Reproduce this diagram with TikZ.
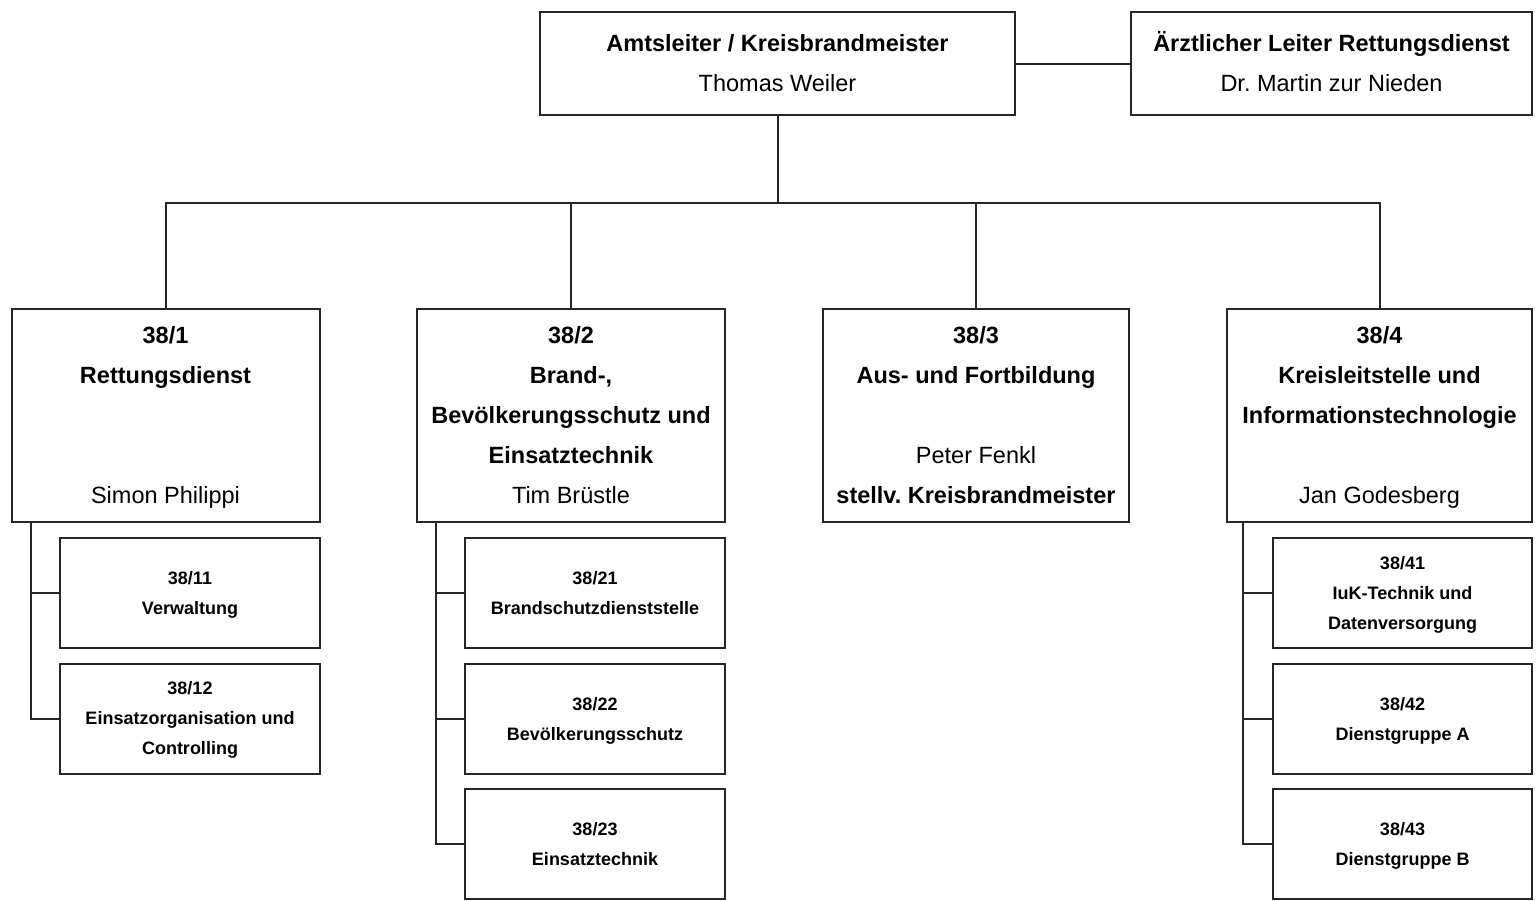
\documentclass[tikz,border=0pt]{standalone}
\usepackage{fontspec}
\setmainfont{Liberation Sans}
\frenchspacing
\usetikzlibrary{positioning}
\tikzset{
  leitbox/.style={draw=black!85, line width=2pt, fill=white, align=center,
                  inner sep=0pt, font=\fontsize{23.5}{40}\selectfont},
  amtbox/.style={leitbox, minimum width=475pt, minimum height=103pt},
  abtbox/.style={leitbox, minimum width=308pt, minimum height=213pt},
  sgbox/.style={leitbox, minimum width=260pt, minimum height=110pt,
                font=\bfseries\fontsize{18}{30}\selectfont},
  linie/.style={draw=black!85, line width=2pt},
}

\begin{document}
\begin{tikzpicture}[x=1pt, y=-1pt]
    \useasboundingbox (0,0) rectangle (1536,900);

    % Leitung
    \node[amtbox] (amt) at (777.5,63.5)
      {\strut\textbf{Amtsleiter / Kreisbrandmeister}\\Thomas Weiler\strut};
    \node[amtbox, minimum width=401pt] (arzt) at (1331.5,63.5)
      {\strut\textbf{Ärztlicher Leiter Rettungsdienst}\\Dr. Martin zur Nieden\strut};

    % Abteilungen
    \node[abtbox] (a1) at (165.5,415.5)
      {\strut\textbf{38/1}\\\textbf{Rettungsdienst}\\\mbox{}\\\mbox{}\\Simon Philippi\strut};
    \node[abtbox] (a2) at (571,415.5)
      {\strut\textbf{38/2}\\\textbf{Brand-,}\\\textbf{Bevölkerungsschutz und}\\\textbf{Einsatztechnik}\\Tim Brüstle\strut};
    \node[abtbox, minimum width=306pt] (a3) at (976,415.5)
      {\strut\textbf{38/3}\\\textbf{Aus- und Fortbildung}\\\mbox{}\\Peter Fenkl\\\textbf{stellv. Kreisbrandmeister}\strut};
    \node[abtbox, minimum width=305pt] (a4) at (1379.5,415.5)
      {\strut\textbf{38/4}\\\textbf{Kreisleitstelle und}\\\textbf{Informationstechnologie}\\\mbox{}\\Jan Godesberg\strut};

    % Sachgebiete
    \node[sgbox] (b11) at (190,593) {\strut 38/11\\Verwaltung\strut};
    \node[sgbox] (b12) at (190,718.5) {\strut 38/12\\Einsatzorganisation und\\Controlling\strut};
    \node[sgbox] (b21) at (595,593) {\strut 38/21\\Brandschutzdienststelle\strut};
    \node[sgbox] (b22) at (595,719) {\strut 38/22\\Bevölkerungsschutz\strut};
    \node[sgbox] (b23) at (595,844) {\strut 38/23\\Einsatztechnik\strut};
    \node[sgbox, minimum width=259pt] (b41) at (1402.5,593) {\strut 38/41\\IuK-Technik und\\Datenversorgung\strut};
    \node[sgbox, minimum width=259pt] (b42) at (1402.5,719) {\strut 38/42\\Dienstgruppe A\strut};
    \node[sgbox, minimum width=259pt] (b43) at (1402.5,844) {\strut 38/43\\Dienstgruppe B\strut};

    % Verbindungen
    \coordinate (bus) at (777.5,203);
    \coordinate (s1) at (31,522);
    \coordinate (s2) at (436,522);
    \coordinate (s4) at (1243,522);

    \draw[linie] (amt.east) -- (arzt.west);
    \draw[linie] (amt.south) -- (bus);
    \draw[linie] (a1.north) -- (a1.north |- bus) -- (a4.north |- bus) -- (a4.north);
    \draw[linie] (a2.north) -- (a2.north |- bus);
    \draw[linie] (a3.north) -- (a3.north |- bus);

    \draw[linie] (s1) |- (b12.west);
    \draw[linie] (s1 |- b11.west) -- (b11.west);
    \draw[linie] (s2) |- (b23.west);
    \draw[linie] (s2 |- b21.west) -- (b21.west);
    \draw[linie] (s2 |- b22.west) -- (b22.west);
    \draw[linie] (s4) |- (b43.west);
    \draw[linie] (s4 |- b41.west) -- (b41.west);
    \draw[linie] (s4 |- b42.west) -- (b42.west);
  \end{tikzpicture}
\end{document}
